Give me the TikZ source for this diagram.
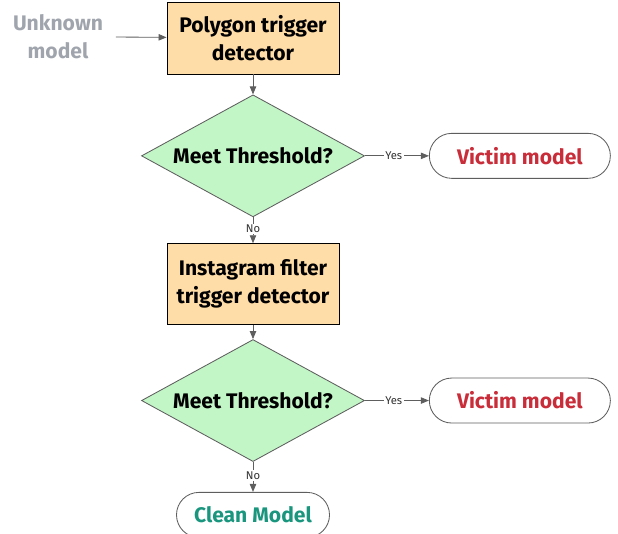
\documentclass[tikz,border=0pt]{standalone}
\usepackage{fontspec}
\setmainfont{Fira Sans}
\usepackage{xcolor}
\usepackage{tikz}
\usetikzlibrary{arrows.meta,positioning,shapes.geometric}

\definecolor{boxfill}{HTML}{FFDDA8}
\definecolor{decfill}{HTML}{C3F6C7}
\definecolor{edgegray}{HTML}{5E5E5E}
\definecolor{victimred}{HTML}{C92D39}
\definecolor{cleangreen}{HTML}{19967D}
\definecolor{unkgray}{HTML}{A0A5AD}

\begin{document}
\begin{tikzpicture}[
  detbox/.style={draw=black, fill=boxfill, minimum width=4.3cm, align=center,
                 font=\fontsize{15}{20}\selectfont\bfseries, line width=0.6pt},
  decision/.style={diamond, draw=edgegray, fill=decfill, aspect=1.83, inner sep=0pt,
                   minimum width=5.575cm, minimum height=3.05cm,
                   font=\fontsize{15}{17}\selectfont\bfseries, line width=0.6pt},
  outcome/.style={draw=edgegray, rounded corners=0.56cm, minimum height=1.125cm,
                  font=\fontsize{15}{17}\selectfont\bfseries, line width=0.6pt},
  arr/.style={-{Triangle[length=2mm, width=1.6mm]}, draw=edgegray, line width=0.6pt},
  lbl/.style={fill=white, inner sep=1pt, text=black!80, font=\fontsize{8}{9}\selectfont},
  node distance=0.5cm and 1.6cm
]
  \useasboundingbox (0,0) rectangle (15.45,-13.325);

  % Stage 1: Polygon
  \node[detbox, minimum height=1.8cm] (poly) at (6.325,-0.95) {Polygon trigger\\detector};
  \node[text=unkgray, align=center, font=\fontsize{15}{20}\selectfont\bfseries]
    (unk) at (1.45,-0.925) {Unknown\\model};
  \node[decision, below=0.5cm of poly] (meet1) {Meet Threshold?};
  \node[outcome, text=victimred, minimum width=4.525cm, right=of meet1] (vic1) {Victim model};

  % Stage 2: Instagram filter
  \node[detbox, minimum height=2.025cm, below=0.65cm of meet1] (insta) {Instagram filter\\trigger detector};
  \node[decision, below=0.35cm of insta] (meet2) {Meet Threshold?};
  \node[outcome, text=victimred, minimum width=4.525cm, right=of meet2] (vic2) {Victim model};
  \node[outcome, text=cleangreen, minimum width=3.825cm, below=0.75cm of meet2] (clean) {Clean Model};

  % Arrows
  \draw[arr] (unk.east) ++(0.2,0) -- (poly);
  \draw[arr] (poly) -- (meet1);
  \draw[arr] (meet1) -- node[lbl, pos=0.45] {Yes} (vic1);
  \draw[arr] (meet1) -- node[lbl, pos=0.45] {No} (insta);
  \draw[arr] (insta) -- (meet2);
  \draw[arr] (meet2) -- node[lbl, pos=0.45] {Yes} (vic2);
  \draw[arr] (meet2) -- node[lbl, pos=0.45] {No} (clean);
\end{tikzpicture}
\end{document}
